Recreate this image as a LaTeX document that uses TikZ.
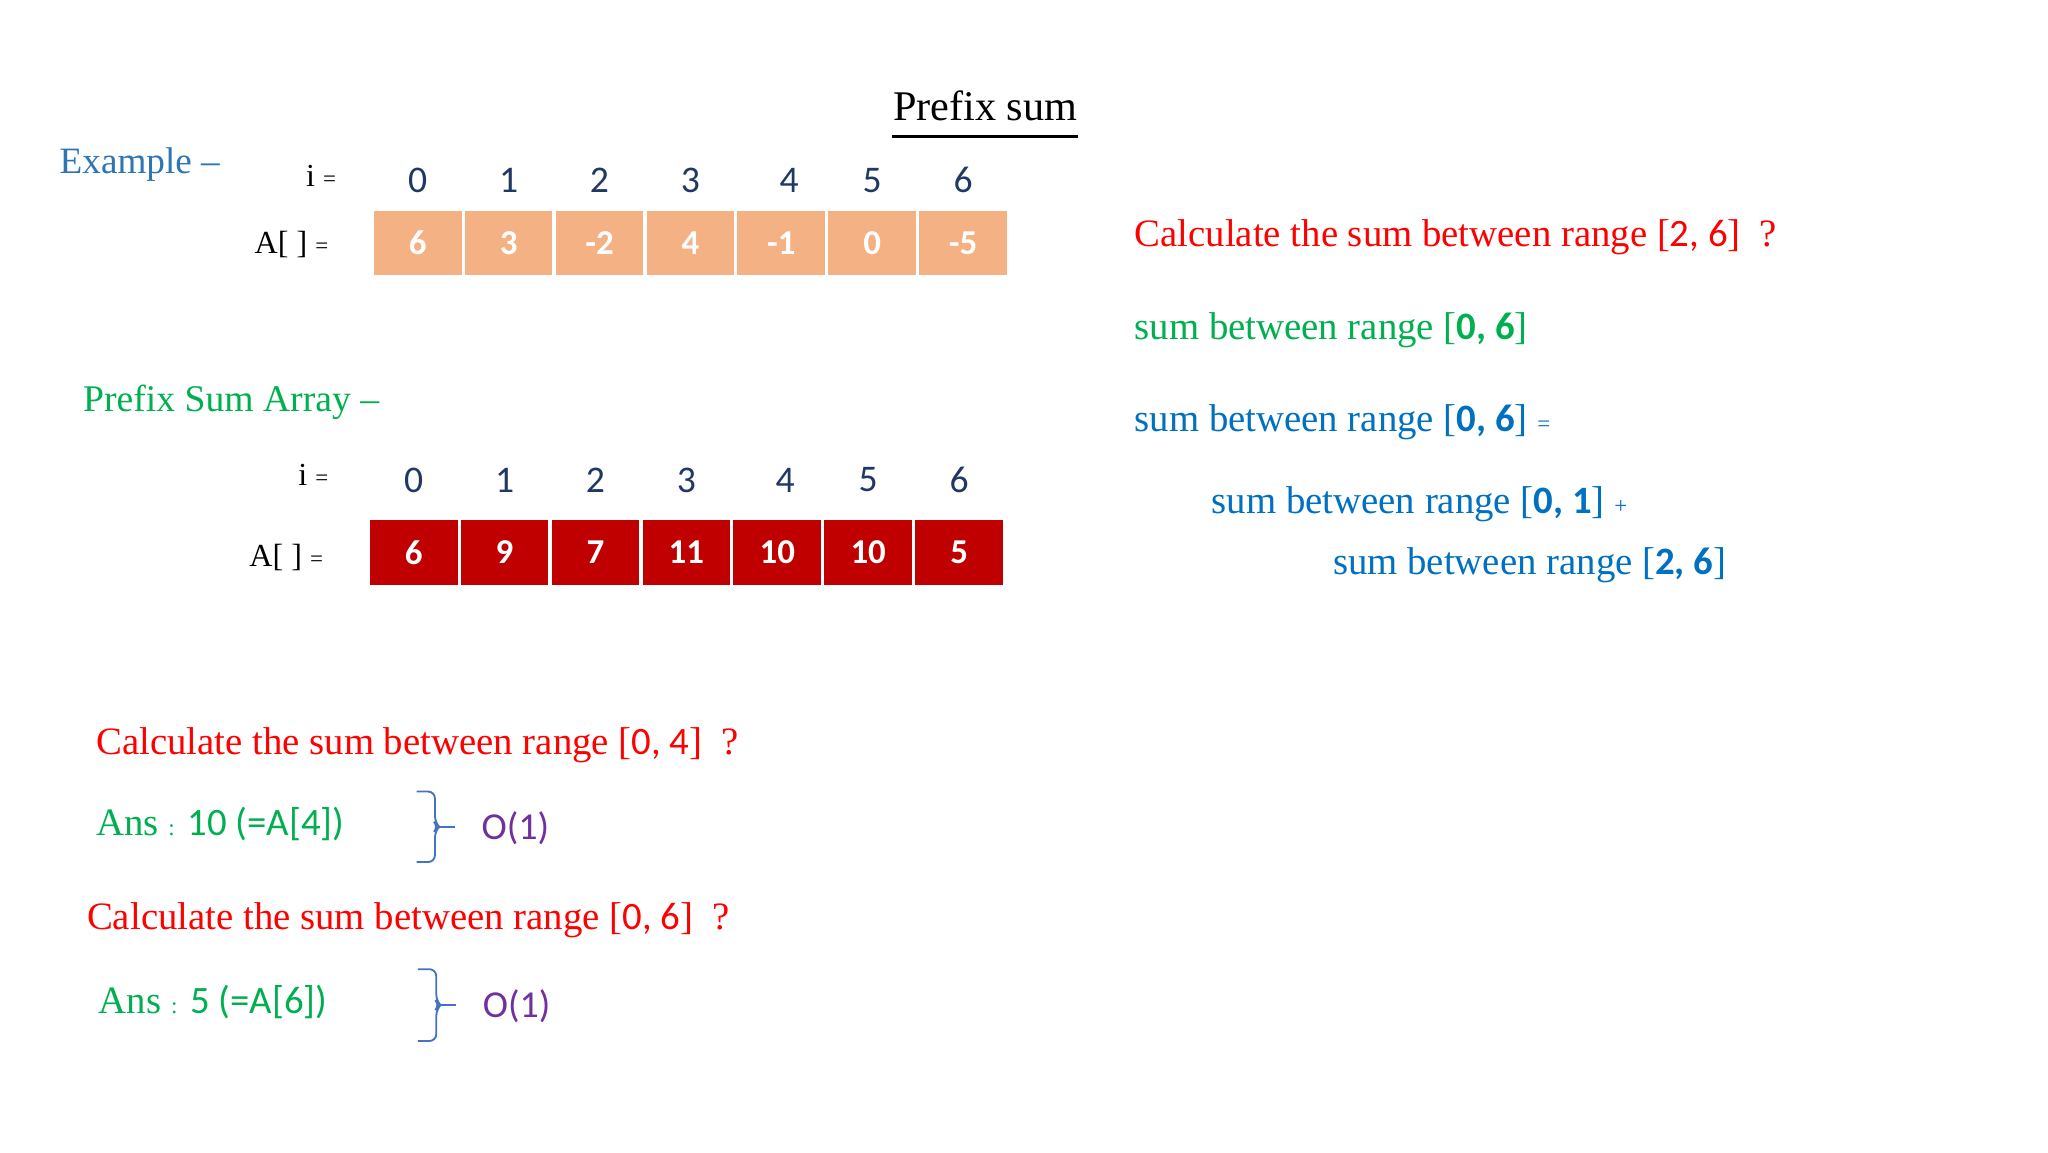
\documentclass[tikz,border=0pt]{standalone}
\usepackage{fontspec}
\setmainfont{Liberation Serif}
\newfontfamily\numfont{Carlito}
\usepackage{tikz}
\usetikzlibrary{positioning}

\definecolor{exblue}{HTML}{2E75B6}
\definecolor{psgreen}{HTML}{00B050}
\definecolor{idxblue}{HTML}{1F3864}
\definecolor{cellpeach}{HTML}{F4B183}
\definecolor{cellred}{HTML}{C00000}
\definecolor{qred}{HTML}{FF0000}
\definecolor{sblue}{HTML}{0070C0}
\definecolor{opurple}{HTML}{7030A0}
\definecolor{braceblue}{HTML}{4472C4}

\newcommand{\tinysym}[1]{{\fontsize{5}{6}\selectfont #1}}
\newcommand{\dg}[1]{{\numfont #1}}
\newcommand{\bdg}[1]{{\numfont\bfseries #1}}

\begin{document}
\begin{tikzpicture}[
  % Styles
  txt/.style={anchor=base west,inner sep=0pt,font=\fontsize{8.45}{10}\selectfont},
  lbl/.style={anchor=base east,inner sep=0pt,font=\fontsize{7}{8.4}\selectfont},
  idx/.style={text=idxblue,font=\numfont\fontsize{8.2}{9.8}\selectfont},
  arrcell/.style={draw=white,line width=0.7pt,minimum width=0.696cm,minimum height=0.52cm,inner sep=0pt,outer sep=0pt,text=white,font=\numfont\bfseries\fontsize{7.6}{9}\selectfont},
  cellA/.style={arrcell,fill=cellpeach},
  cellB/.style={arrcell,fill=cellred},
  onode/.style={anchor=base west,inner sep=0pt,text=opurple,font=\numfont\fontsize{8.3}{10}\selectfont},
  bracestyle/.style={draw=braceblue,line width=0.4pt,rounded corners=1.5pt},
  ]

\path[use as bounding box,fill=white] (0,0) rectangle (15.68,-8.82);

%--- Title ----------------------------------------------------------
\node[txt,font=\fontsize{9.2}{11}\selectfont] (title) at (6.83,-0.924) {Prefix sum};
\draw[line width=0.5pt] ([yshift=-0.12cm]title.base west) -- ([yshift=-0.12cm]title.base east);

%--- Example array --------------------------------------------------
\node[txt,text=exblue,font=\fontsize{8.1}{10}\selectfont] (example) at (0.45,-1.326) {Example --};

% Cells
\node[cellA] (a0) at (3.198,-1.86) {6};
\node[cellA, right=0pt of a0] (a1) {3};
\node[cellA, right=0pt of a1] (a2) {-2};
\node[cellA, right=0pt of a2] (a3) {4};
\node[cellA, right=0pt of a3] (a4) {-1};
\node[cellA, right=0pt of a4] (a5) {0};
\node[cellA, right=0pt of a5] (a6) {-5};

% Indices above the cells
\node[idx, yshift=0.22cm] (ia0) at (a0.north) {0};
\node[idx, yshift=0.22cm] (ia1) at (a1.north) {1};
\node[idx, yshift=0.22cm] (ia2) at (a2.north) {2};
\node[idx, yshift=0.22cm] (ia3) at (a3.north) {3};
\node[idx, yshift=0.22cm, xshift=0.06cm] (ia4) at (a4.north) {4};
\node[idx, yshift=0.22cm] (ia5) at (a5.north) {5};
\node[idx, yshift=0.22cm] (ia6) at (a6.north) {6};

\node[lbl] (itagA) at (2.58,-1.43) {i \tinysym{=}};
\node[lbl] (atagA) at (2.52,-1.94) {A[ ] \tinysym{=}};

%--- Prefix sum array -----------------------------------------------
\node[txt,text=psgreen,font=\fontsize{8.2}{10}\selectfont] (psarray) at (0.63,-3.15) {Prefix Sum Array --};

% Cells
\node[cellB] (b0) at (3.167,-4.23) {6};
\node[cellB, right=0pt of b0] (b1) {9};
\node[cellB, right=0pt of b1] (b2) {7};
\node[cellB, right=0pt of b2] (b3) {11};
\node[cellB, right=0pt of b3] (b4) {10};
\node[cellB, right=0pt of b4] (b5) {10};
\node[cellB, right=0pt of b5] (b6) {5};

% Indices above the cells
\node[idx, yshift=0.295cm] (ib0) at (b0.north) {0};
\node[idx, yshift=0.295cm] (ib1) at (b1.north) {1};
\node[idx, yshift=0.295cm] (ib2) at (b2.north) {2};
\node[idx, yshift=0.295cm] (ib3) at (b3.north) {3};
\node[idx, yshift=0.295cm, xshift=0.06cm] (ib4) at (b4.north) {4};
\node[idx, yshift=0.295cm] (ib5) at (b5.north) {5};
\node[idx, yshift=0.295cm] (ib6) at (b6.north) {6};

\node[lbl] (itagB) at (2.52,-3.72) {i \tinysym{=}};
\node[lbl] (atagB) at (2.48,-4.34) {A[ ] \tinysym{=}};

%--- Range [2, 6] ---------------------------------------------------
\node[txt,text=qred] (qrange) at (8.68,-1.89) {Calculate the sum between range [\dg{2, 6}]\ \ ?};
\node[txt,text=psgreen] (sfull) at (8.68,-2.60) {sum between range [\bdg{0, 6}]};
\node[txt,text=sblue] (ssplit) at (8.68,-3.30) {sum between range [\bdg{0, 6}] \tinysym{=}};
\node[txt,text=sblue] (shead) at (9.27,-3.93) {sum between range [\bdg{0, 1}] \tinysym{+}};
\node[txt,text=sblue] (stail) at (10.20,-4.40) {sum between range [\bdg{2, 6}]};

%--- Queries on the prefix sum array --------------------------------
\node[txt,text=qred] (qfour) at (0.73,-5.78) {Calculate the sum between range [\dg{0, 4}]\ \ ?};
\node[txt,text=psgreen] (ansfour) at (0.73,-6.40) {Ans \tinysym{:} \dg{10 (=A[4])}};
\node[onode] (ofour) at (3.68,-6.43) {O(1)};

\node[txt,text=qred] (qsix) at (0.66,-7.12) {Calculate the sum between range [\dg{0, 6}]\ \ ?};
\node[txt,text=psgreen] (anssix) at (0.75,-7.76) {Ans \tinysym{:} \dg{5 (=A[6])}};
\node[onode] (osix) at (3.69,-7.79) {O(1)};

% Braces
\coordinate (brfour) at (3.19,-6.06);
\coordinate (brfourtip) at (3.36,-6.33);
\coordinate (brsix) at (3.20,-7.42);
\coordinate (brsixtip) at (3.37,-7.695);
\draw[bracestyle] (brfour) -- ++(0.14,0) -- ++(0,-0.24) -- (brfourtip) -- ++(-0.03,-0.03) -- ++(0,-0.24) -- ++(-0.14,0);
\draw[bracestyle] (brfourtip) -- ++(0.12,0);
\draw[bracestyle] (brsix) -- ++(0.14,0) -- ++(0,-0.245) -- (brsixtip) -- ++(-0.03,-0.03) -- ++(0,-0.245) -- ++(-0.14,0);
\draw[bracestyle] (brsixtip) -- ++(0.12,0);

\end{tikzpicture}
\end{document}
